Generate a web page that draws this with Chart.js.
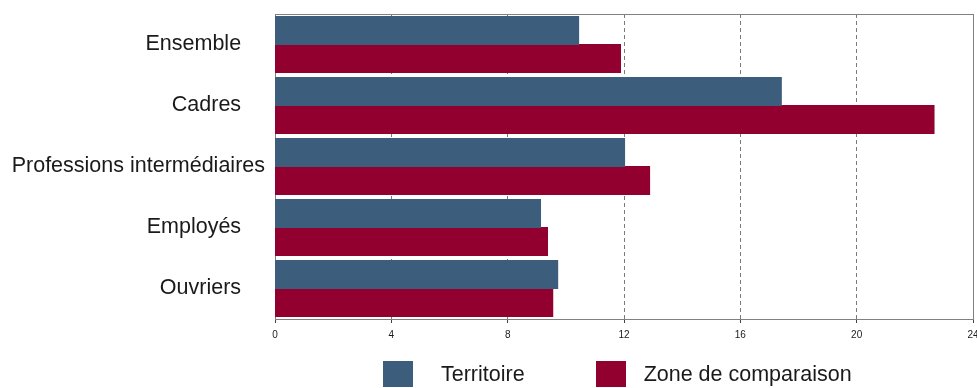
<!DOCTYPE html>
<html>
<head>
<meta charset="utf-8">
<script src="https://cdn.jsdelivr.net/npm/chart.js@4"></script>
<style>
  html, body { margin: 0; padding: 0; background: #fff; overflow: hidden; }
  #wrap { position: relative; width: 977px; height: 388px; }
  #c { position: absolute; left: 0; top: 0; }
  #legend { position: absolute; left: 383px; top: 361px; display: flex; align-items: center;
            font-family: "Liberation Sans", Arial, sans-serif; font-size: 21.5px; color: #1a1a1a; }
  .item { display: flex; align-items: center; }
  .box { width: 30px; height: 26px; }
  .lbl { line-height: 26px; }
</style>
</head>
<body>
<div id="wrap">
  <canvas id="c" width="977" height="388"></canvas>
  <div id="legend"></div>
</div>
<script>
const categories = ["Ensemble", "Cadres", "Professions intermédiaires", "Employés", "Ouvriers"];
const seriesNames = ["Territoire", "Zone de comparaison"];
const territoire = [10.44, 17.41, 12.02, 9.13, 9.72];
const zoneComparaison = [11.88, 22.66, 12.88, 9.37, 9.55];
const xTicks = [0, 4, 8, 12, 16, 20, 24];
const colors = ["#3C5E7C", "#91002E"];

const frame = {
  id: 'frame',
  beforeDatasetsDraw(chart) {
    const a = chart.chartArea, ctx = chart.ctx;
    ctx.save();
    ctx.strokeStyle = '#808080';
    ctx.lineWidth = 1;
    ctx.strokeRect(Math.round(a.left) + 0.5, Math.round(a.top) + 0.5,
                   Math.round(a.right - a.left), Math.round(a.bottom - a.top));
    ctx.restore();
  }
};

const chart = new Chart(document.getElementById('c'), {
  type: 'bar',
  data: {
    labels: categories,
    datasets: [
      { label: seriesNames[0], data: territoire, backgroundColor: colors[0] },
      { label: seriesNames[1], data: zoneComparaison, backgroundColor: colors[1] }
    ]
  },
  options: {
    indexAxis: 'y',
    responsive: false,
    animation: false,
    devicePixelRatio: 1,
    categoryPercentage: 0.92,
    barPercentage: 1.0,
    datasets: { bar: { borderWidth: 0, inflateAmount: 0.5 } },
    layout: { padding: { top: 14, right: 4, bottom: 0, left: 0 } },
    plugins: { legend: { display: false }, tooltip: { enabled: false } },
    scales: {
      x: {
        type: 'linear',
        min: 0, max: 24,
        afterBuildTicks(scale) { scale.ticks = xTicks.map(v => ({ value: v })); },
        afterFit(scale) { scale.height = 69; scale.paddingLeft = 0; scale.paddingRight = 0; },
        grid: {
          color: '#7a7a7a',
          lineWidth: 1,
          tickBorderDash: [],
          tickColor: '#444',
          tickLength: 4,
          drawOnChartArea: true
        },
        border: { display: true, color: '#808080', dash: [4, 3] },
        ticks: {
          padding: 6,
          maxRotation: 0,
          autoSkip: false,
          color: '#1a1a1a',
          font: { family: '"Liberation Sans", Arial, sans-serif', size: 10 }
        }
      },
      y: {
        afterFit(scale) { scale.width = 275; scale.paddingTop = 0; scale.paddingBottom = 0; },
        grid: { display: true, drawOnChartArea: false, drawTicks: false },
        border: { display: true, color: '#444' },
        ticks: {
          padding: 10,
          color: '#1a1a1a',
          font: { family: '"Liberation Sans", Arial, sans-serif', size: 21.5 },
          callback(v) {
            const s = categories[v];
            return s.length > 12 ? s : s + '    ';
          }
        }
      }
    }
  },
  plugins: [frame]
});

// legend: gaps between box and text, and between items
const legendGaps = [{ text: 28, after: 71 }, { text: 18, after: 0 }];
const legend = document.getElementById('legend');
chart.data.datasets.forEach((ds, i) => {
  const item = document.createElement('div');
  item.className = 'item';
  item.style.marginRight = legendGaps[i].after + 'px';
  const box = document.createElement('div');
  box.className = 'box';
  box.style.background = ds.backgroundColor;
  const lbl = document.createElement('span');
  lbl.className = 'lbl';
  lbl.style.marginLeft = legendGaps[i].text + 'px';
  lbl.textContent = ds.label;
  item.appendChild(box);
  item.appendChild(lbl);
  legend.appendChild(item);
});
</script>
</body>
</html>
